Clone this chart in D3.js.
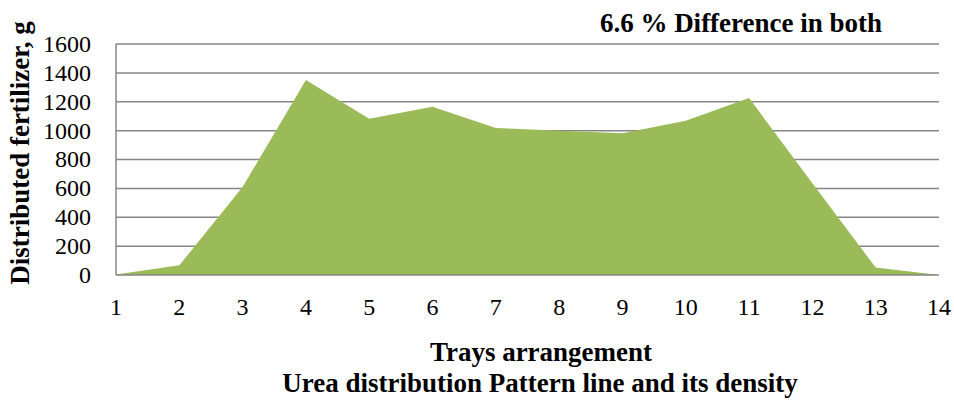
<!DOCTYPE html>
<html><head><meta charset="utf-8">
<script src="https://cdn.jsdelivr.net/npm/d3@7"></script>
<style>body{margin:0;background:#fff}svg{display:block}</style>
</head><body><svg id="c" width="954" height="400"></svg>
<script>
const trays = [1,2,3,4,5,6,7,8,9,10,11,12,13,14];
const fertilizer = [3,67,610,1350,1082,1165,1018,1000,982,1068,1226,635,52,0];
const yTicks = [0,200,400,600,800,1000,1200,1400,1600];
const chartTitle = "6.6 % Difference in both";
const xTitle = "Trays arrangement";
const subTitle = "Urea distribution Pattern line and its density";
const yTitle = "Distributed fertilizer, g";

const svg = d3.select("#c");
const L = 116, R = 939, T = 44, B = 275;
const x = d3.scaleLinear().domain([1,14]).range([L,R]);
const y = d3.scaleLinear().domain([0,1600]).range([B,T]);
const font = "'Liberation Serif','Times New Roman',serif";

svg.append("g").selectAll("line").data(yTicks.filter(d=>d>0)).join("line")
  .attr("x1",L).attr("x2",R).attr("y1",d=>y(d)).attr("y2",d=>y(d))
  .attr("stroke","#868686").attr("stroke-width",1.5);

const area = d3.area().x((d,i)=>x(trays[i])).y0(y(0)).y1(d=>y(d));
svg.append("path").datum(fertilizer).attr("d",area).attr("fill","#9BBB59");

svg.append("line").attr("x1",L).attr("x2",L).attr("y1",T).attr("y2",B)
  .attr("stroke","#868686").attr("stroke-width",1.5);
svg.append("line").attr("x1",L).attr("x2",R).attr("y1",B).attr("y2",B)
  .attr("stroke","#868686").attr("stroke-width",1.5);

svg.append("g").selectAll("text").data(yTicks).join("text")
  .attr("x",91).attr("y",d=>y(d)).attr("dy","0.33em").attr("text-anchor","end")
  .attr("font-family",font).attr("font-size",24).attr("fill","#000").text(d=>d);

svg.append("g").selectAll("text").data(trays).join("text")
  .attr("x",d=>x(d)).attr("y",315).attr("text-anchor","middle")
  .attr("font-family",font).attr("font-size",24).attr("fill","#000").text(d=>d);

svg.append("text").attr("x",741).attr("y",32).attr("text-anchor","middle")
  .attr("font-family",font).attr("font-weight","bold").attr("font-size",27).text(chartTitle);
svg.append("text").attr("x",541).attr("y",361).attr("text-anchor","middle")
  .attr("font-family",font).attr("font-weight","bold").attr("font-size",27).text(xTitle);
svg.append("text").attr("x",540).attr("y",392).attr("text-anchor","middle")
  .attr("font-family",font).attr("font-weight","bold").attr("font-size",27).text(subTitle);
svg.append("text").attr("transform","translate(29,153) rotate(-90)").attr("text-anchor","middle")
  .attr("font-family",font).attr("font-weight","bold").attr("font-size",27).text(yTitle);
</script></body></html>
